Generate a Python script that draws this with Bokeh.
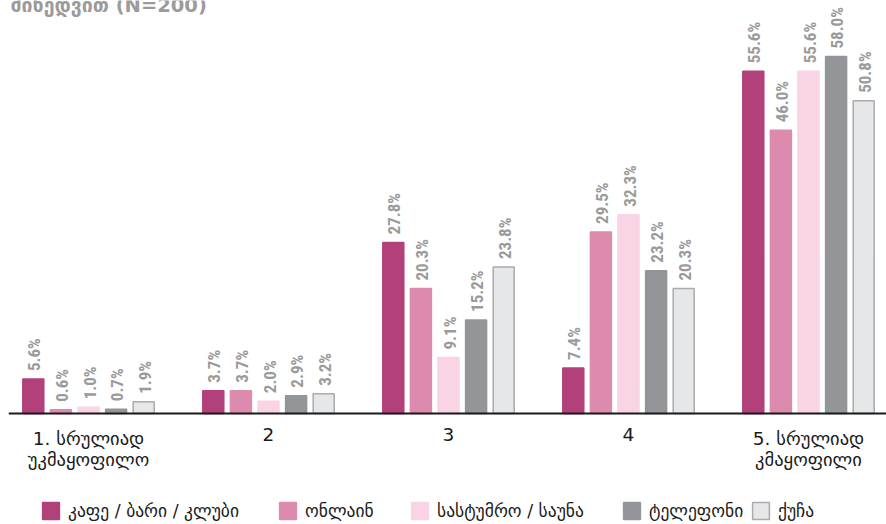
import numpy as np
from bokeh.plotting import figure
from bokeh.models import Range1d, Legend, LegendItem, Label, ColumnDataSource, Span
from bokeh.core.properties import value
from bokeh.embed import file_html
from bokeh.resources import INLINE

# ---- data ----
categories = ["1. სრულიად\nუკმაყოფილო", "2", "3", "4", "5. სრულიად\nკმაყოფილი"]
series_names = ["კაფე / ბარი / კლუბი", "ონლაინ", "სასტუმრო / საუნა", "ტელეფონი", "ქუჩა"]
cafe = [5.6, 3.7, 27.8, 7.4, 55.6]
online = [0.6, 3.7, 20.3, 29.5, 46.0]
hotel = [1.0, 2.0, 9.1, 32.3, 55.6]
phone = [0.7, 2.9, 15.2, 23.2, 58.0]
street = [1.9, 3.2, 23.8, 20.3, 50.8]
title_text = "მიხედვით  (N=200)"

series = [cafe, online, hotel, phone, street]
fills = ["#b2407a", "#dc8aae", "#f9d4e4", "#939598", "#e6e7e8"]
outlines = ["#b2407a", "#dc8aae", "#f9d4e4", "#939598", "#a9abae"]
legend_x = [32, 269, 401, 613, 742]   # legend entry positions (px from frame left)

W, H = 886, 524
LEFT = 8
BASE = 413          # pixel row of the zero line
frame_w = W - LEFT
px_per_cat = 180.0
px_per_pct = 6.155
x_start = -80.0 / px_per_cat
x_end = x_start + frame_w / px_per_cat
y_end = BASE / px_per_pct
y_start = -(H - BASE) / px_per_pct

p = figure(width=W, height=H, output_backend="svg", toolbar_location=None,
           x_range=Range1d(x_start, x_end), y_range=Range1d(y_start, y_end),
           x_axis_location=None, y_axis_location=None,
           min_border_left=LEFT, min_border_right=0,
           min_border_top=0, min_border_bottom=0)
p.styles = {"position": "absolute", "top": "0px", "left": "0px"}
p.outline_line_color = None
p.xgrid.visible = False
p.ygrid.visible = False
p.background_fill_color = "white"
p.border_fill_color = "white"

pitch = 27.6 / px_per_cat
bw = 21.0 / px_per_cat
idx = np.arange(len(categories))
for k, (vals, name) in enumerate(zip(series, series_names)):
    xs = idx + (k - 2) * pitch
    src = ColumnDataSource(dict(x=xs, top=vals, lab=[f"{v:.1f}%" for v in vals]))
    r = p.vbar(x="x", top="top", width=bw, bottom=0, source=src,
               fill_color=fills[k], line_color=outlines[k], line_width=1.5)
    p.text(x="x", y="top", text="lab", source=src, angle=np.pi / 2,
           text_align="left", text_baseline="middle", y_offset=-8, x_offset=1,
           text_font=value("Roboto Condensed"), text_font_style="bold",
           text_font_size="17px", text_color="#9a9a9a")
    leg = Legend(items=[LegendItem(label=name, renderers=[r])], orientation="horizontal",
                 location=(legend_x[k], 3), label_standoff=7, glyph_width=21,
                 glyph_height=21, label_height=21, padding=0, margin=0,
                 label_text_font="DejaVu Sans", label_text_font_size="17.5px",
                 label_text_color="#1a1a1a", border_line_color=None,
                 background_fill_alpha=0)
    p.add_layout(leg, "center")

# baseline (x axis line)
p.add_layout(Span(location=0, dimension="width", line_color="#1a1a1a", line_width=1.8))

# category labels
csrc = ColumnDataSource(dict(x=idx, y=np.zeros(len(categories)), t=categories))
p.text(x="x", y="y", text="t", source=csrc, text_align="center", text_baseline="top",
       y_offset=14, text_font=value("DejaVu Sans"), text_font_size="18.5px",
       text_color="#1a1a1a", text_line_height=1.0)

title = Label(x=x_start, y=y_end - 4.5 / px_per_pct, x_offset=2, text=title_text,
              text_font="DejaVu Sans", text_font_style="bold", text_font_size="19.5px",
              text_color="#9b9b9b", text_baseline="alphabetic", text_align="left")
p.add_layout(title)

open("out.html", "w").write(file_html(p, INLINE))
